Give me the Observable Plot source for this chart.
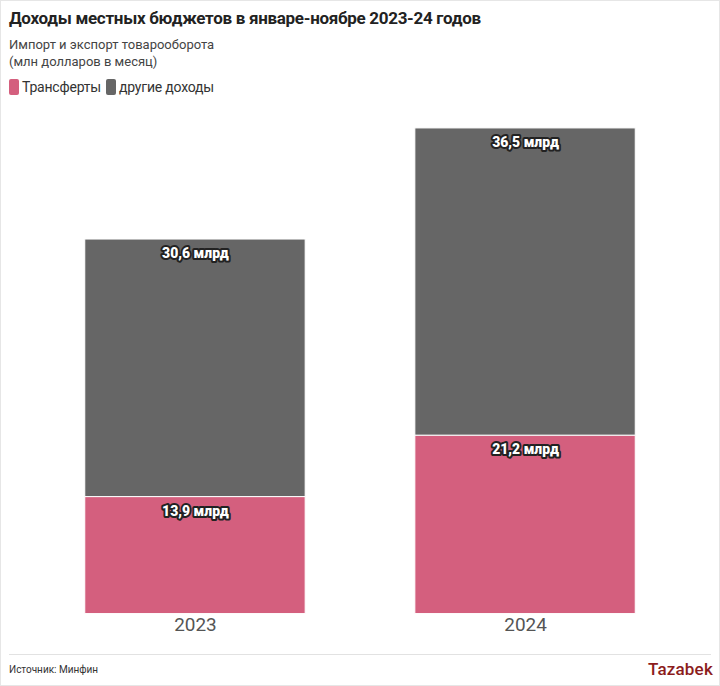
<!DOCTYPE html>
<html><head><meta charset="utf-8">
<script src="https://cdn.jsdelivr.net/npm/d3@7"></script>
<script src="https://cdn.jsdelivr.net/npm/@observablehq/plot@0.6"></script>
<style>
body{margin:0;background:#fff;}
#frame{position:relative;width:720px;height:686px;box-sizing:border-box;border:1px solid #e6e6e6;background:#fff;font-family:Roboto,"Noto Sans",sans-serif;overflow:hidden;}
#title{position:absolute;left:8px;top:7px;font-size:17px;letter-spacing:-0.3px;font-weight:bold;color:#222;white-space:nowrap;}
#sub{position:absolute;left:8px;top:35px;font-size:13px;line-height:17px;color:#444;}
#legend{position:absolute;left:8px;top:78px;font-size:14px;letter-spacing:-0.2px;color:#333;display:flex;align-items:center;}
#legend .item{display:flex;align-items:center;margin-right:5px;}
#legend .sw{width:10px;height:16px;border-radius:2px;margin-right:3px;display:inline-block;}
#chart{position:absolute;left:0;top:100px;}
#rule{position:absolute;left:8px;right:8px;top:653px;border-top:1px solid #e2e2e2;}
#source{position:absolute;left:8px;top:663px;font-size:10px;color:#333;}
#logo{position:absolute;right:6px;top:658px;font-size:17px;color:#8c1c1c;font-weight:500;letter-spacing:0.2px;}
</style></head>
<body>
<div id="frame">
  <div id="title">Доходы местных бюджетов в январе-ноябре 2023-24 годов</div>
  <div id="sub">Импорт и экспорт товарооборота<br>(млн долларов в месяц)</div>
  <div id="legend"></div>
  <div id="chart"></div>
  <div id="rule"></div>
  <div id="source">Источник: Минфин</div>
  <div id="logo">Tazabek</div>
</div>
<script>
const years = ["2023", "2024"];
const seriesNames = ["Трансферты", "другие доходы"];
const transfers = [13.9, 21.2];
const otherIncome = [30.6, 36.5];
const colors = ["#d45f7e", "#666666"];

const data = [];
years.forEach((y, i) => {
  data.push({year: y, type: seriesNames[0], value: transfers[i]});
  data.push({year: y, type: seriesNames[1], value: otherIncome[i]});
});

const legend = document.getElementById("legend");
seriesNames.forEach((n, i) => {
  const it = document.createElement("span");
  it.className = "item";
  it.innerHTML = `<span class="sw" style="background:${colors[i]}"></span>${n}`;
  legend.appendChild(it);
});

const fmt = v => v.toFixed(1).replace(".", ",") + " млрд";

const chart = Plot.plot({
  width: 720,
  height: 550,
  marginLeft: 20,
  marginRight: 20,
  marginTop: 20,
  marginBottom: 36,
  style: {fontFamily: "Roboto, sans-serif", background: "transparent"},
  x: {domain: years, paddingInner: 0.333, paddingOuter: 0.192, label: null},
  y: {domain: [0, 58.53], axis: null},
  color: {domain: seriesNames, range: colors},
  marks: [
    Plot.barY(data, {x: "year", y: "value", fill: "type", stroke: "white", strokeWidth: 1}),
    Plot.text(data, Plot.stackY2({x: "year", y: "value", text: d => fmt(d.value), dy: 14, fill: "white", stroke: "#222", strokeWidth: 4, strokeLinejoin: "round", fontSize: 14, fontWeight: 900})),
    Plot.axisX({tickSize: 0, tickPadding: 3, fontSize: 19, label: null, color: "#555"})
  ]
});
document.getElementById("chart").appendChild(chart);
</script>
</body></html>
